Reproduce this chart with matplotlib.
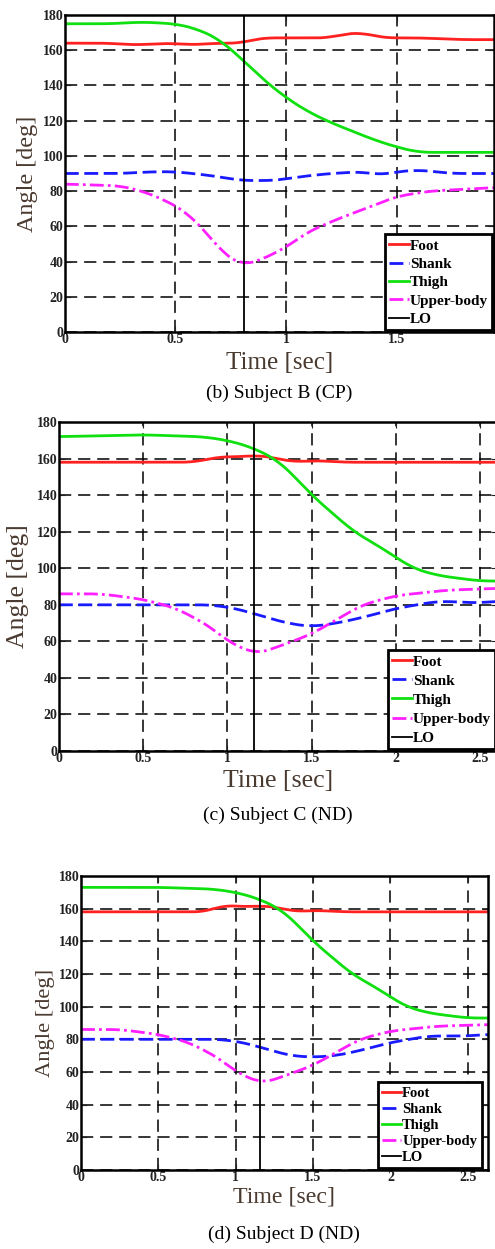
import numpy as np
import matplotlib
matplotlib.use("Agg")
import matplotlib.pyplot as plt

plt.rcParams['font.family'] = ['Liberation Serif', 'DejaVu Serif']

# ---- Subject B (CP) ----
b_t_foot = [0, 0.2, 0.3, 0.5, 0.55, 0.7, 0.8, 0.85, 0.9, 1.0, 1.2, 1.25, 1.35, 1.4, 1.45, 1.6, 1.8, 1.94]
b_foot = [164, 164, 163, 164, 163, 164, 164, 166, 167, 167, 167, 169, 170, 168, 167, 167, 166, 166]
b_t_thigh = [0, 0.2, 0.35, 0.5, 0.6, 0.7, 0.8, 0.9, 1.0, 1.1, 1.2, 1.3, 1.4, 1.5, 1.6, 1.75, 1.94]
b_thigh = [175, 175, 176, 175, 172, 166, 155, 143, 133, 125, 119, 114, 109, 105, 102, 102, 102]
b_t_shank = [0, 0.25, 0.4, 0.5, 0.65, 0.8, 0.95, 1.05, 1.2, 1.35, 1.42, 1.5, 1.6, 1.75, 1.94]
b_shank = [90, 90, 91, 91, 89, 86, 86, 88, 90, 91, 89, 91, 92, 90, 90]
b_t_upper = [0, 0.25, 0.35, 0.45, 0.55, 0.65, 0.72, 0.8, 0.87, 1.0, 1.1, 1.25, 1.4, 1.5, 1.65, 1.94]
b_upper = [84, 83, 80, 75, 68, 55, 44, 38, 40, 48, 57, 65, 72, 77, 80, 82]
b_lo = 0.81

# ---- Subject C (ND) ----
c_t_foot = [0, 0.3, 0.5, 0.8, 0.95, 1.1, 1.17, 1.3, 1.4, 1.5, 1.7, 2.0, 2.3, 2.6]
c_foot = [158, 158, 158, 158, 161, 161, 162, 160, 158, 159, 158, 158, 158, 158]
c_t_thigh = [0, 0.5, 0.85, 1.0, 1.15, 1.3, 1.4, 1.5, 1.65, 1.75, 1.9, 2.0, 2.1, 2.25, 2.5, 2.6]
c_thigh = [172, 173, 172, 170, 166, 159, 150, 140, 128, 120, 112, 106, 100, 96, 93, 93]
c_t_shank = [0, 0.5, 0.9, 1.05, 1.2, 1.35, 1.5, 1.65, 1.8, 2.0, 2.25, 2.5, 2.6]
c_shank = [80, 80, 80, 78, 74, 70, 68, 70, 73, 78, 82, 81, 82]
c_t_upper = [0, 0.25, 0.5, 0.7, 0.9, 1.0, 1.17, 1.3, 1.5, 1.65, 1.8, 2.0, 2.3, 2.6]
c_upper = [86, 86, 83, 78, 68, 60, 53, 57, 64, 72, 80, 85, 88, 89]
c_lo = 1.16

# ---- Subject D (ND) ----
d_t_foot = [0, 0.3, 0.5, 0.8, 0.92, 1.1, 1.17, 1.3, 1.4, 1.5, 1.7, 2.0, 2.3, 2.63]
d_foot = [158, 158, 158, 158, 162, 161, 162, 160, 158, 159, 158, 158, 158, 158]
d_t_thigh = [0, 0.5, 0.85, 1.0, 1.15, 1.3, 1.4, 1.5, 1.65, 1.75, 1.9, 2.0, 2.1, 2.25, 2.5, 2.63]
d_thigh = [173, 173, 172, 170, 166, 159, 150, 140, 128, 120, 112, 106, 100, 96, 93, 93]
d_t_shank = [0, 0.5, 0.9, 1.05, 1.2, 1.35, 1.5, 1.65, 1.8, 2.0, 2.25, 2.5, 2.63]
d_shank = [80, 80, 80, 78, 74, 70, 69, 70, 73, 78, 82, 82, 83]
d_t_upper = [0, 0.25, 0.5, 0.7, 0.9, 1.0, 1.17, 1.3, 1.5, 1.65, 1.8, 2.0, 2.3, 2.63]
d_upper = [86, 86, 83, 78, 68, 60, 53, 57, 64, 72, 80, 85, 88, 89]
d_lo = 1.16

xticks_b = [0, 0.5, 1, 1.5]
xticks_cd = [0, 0.5, 1, 1.5, 2, 2.5]
yticks = [0, 20, 40, 60, 80, 100, 120, 140, 160, 180]

label_col = '#4a3a30'


def smooth(t, y, n=300):
    # dense curve through the read-off points
    tt = np.linspace(t[0], t[-1], n)
    yy = np.interp(tt, t, y)
    k = 9
    pad = np.pad(yy, k, mode='edge')
    yy = np.convolve(pad, np.ones(2 * k + 1) / (2 * k + 1), mode='same')[k:-k]
    return tt, yy


def panel(ax, series, lo, xmax, xticks, leg_x, caption, ylab_x, cap_y, xlab_y,
          ylab_fs, xlab_fs, leg_fs, leg_sp):
    (tf, f), (ts, s), (tth, th), (tu, u) = series
    ax.plot(*smooth(tf, f), color='#ff2020', lw=2, label='Foot')
    ax.plot(*smooth(ts, s), color='#1a1aff', lw=2, ls=(0, (5, 2)), label='Shank')
    ax.plot(*smooth(tth, th), color='#10e010', lw=2, label='Thigh')
    ax.plot(*smooth(tu, u), color='#ff20ff', lw=2, ls=(0, (5, 1.5, 1, 1.5)), label='Upper-body')
    ax.axvline(lo, color='black', lw=1.3, label='LO')
    ax.set_xlim(0, xmax)
    ax.set_ylim(0, 180)
    ax.set_xticks(xticks)
    ax.set_xticklabels([f'{v:g}' for v in xticks])
    ax.set_yticks(yticks)
    ax.grid(True, color='black', ls=(0, (8, 4.5)), lw=1.1)
    ax.tick_params(direction='in', length=4, top=True, right=True, labelsize=10, pad=1,
                   colors='#222222')
    for lab in ax.get_xticklabels() + ax.get_yticklabels():
        lab.set_fontweight('bold')
    for sp in ax.spines.values():
        sp.set_linewidth(1.8)
    ax.set_ylabel('Angle [deg]', fontsize=ylab_fs, color=label_col)
    ax.yaxis.set_label_coords(ylab_x, 0.5)
    ax.set_xlabel('Time [sec]', fontsize=xlab_fs, color=label_col)
    ax.xaxis.set_label_coords(0.5, xlab_y)
    leg = ax.legend(loc='lower right', bbox_to_anchor=(leg_x, 0.0), fancybox=False,
                    framealpha=1, edgecolor='black', borderaxespad=0.1,
                    prop={'size': leg_fs, 'weight': 'bold'}, handlelength=1.3,
                    handletextpad=0.05, labelspacing=leg_sp, borderpad=0.3)
    leg.get_frame().set_linewidth(2)
    ax.text(0.5, cap_y, caption, transform=ax.transAxes, ha='center', va='center',
            fontsize=14)


fig = plt.figure(figsize=(4.95, 12.49), dpi=100)
ax1 = fig.add_axes([0.131, 0.7342, 0.867, 0.2538])
ax2 = fig.add_axes([0.119, 0.3987, 0.885, 0.2634])
ax3 = fig.add_axes([0.1636, 0.0633, 0.822, 0.2354])

panel(ax1, [(b_t_foot, b_foot), (b_t_shank, b_shank), (b_t_thigh, b_thigh), (b_t_upper, b_upper)],
      b_lo, 1.94, xticks_b, 1.0, '(b) Subject B (CP)', -0.063, -0.192, -0.063,
      17.4, 18, 11, 0.3)
panel(ax2, [(c_t_foot, c_foot), (c_t_shank, c_shank), (c_t_thigh, c_thigh), (c_t_upper, c_upper)],
      c_lo, 2.6, xticks_cd, 1.0, '(c) Subject C (ND)', -0.069, -0.195, -0.058,
      18.5, 18.6, 11, 0.35)
panel(ax3, [(d_t_foot, d_foot), (d_t_shank, d_shank), (d_t_thigh, d_thigh), (d_t_upper, d_upper)],
      d_lo, 2.63, xticks_cd, 0.988, '(d) Subject D (ND)', -0.064, -0.22, -0.058,
      16.2, 17.2, 10.5, 0.2)

fig.savefig('out.png', dpi=100)
